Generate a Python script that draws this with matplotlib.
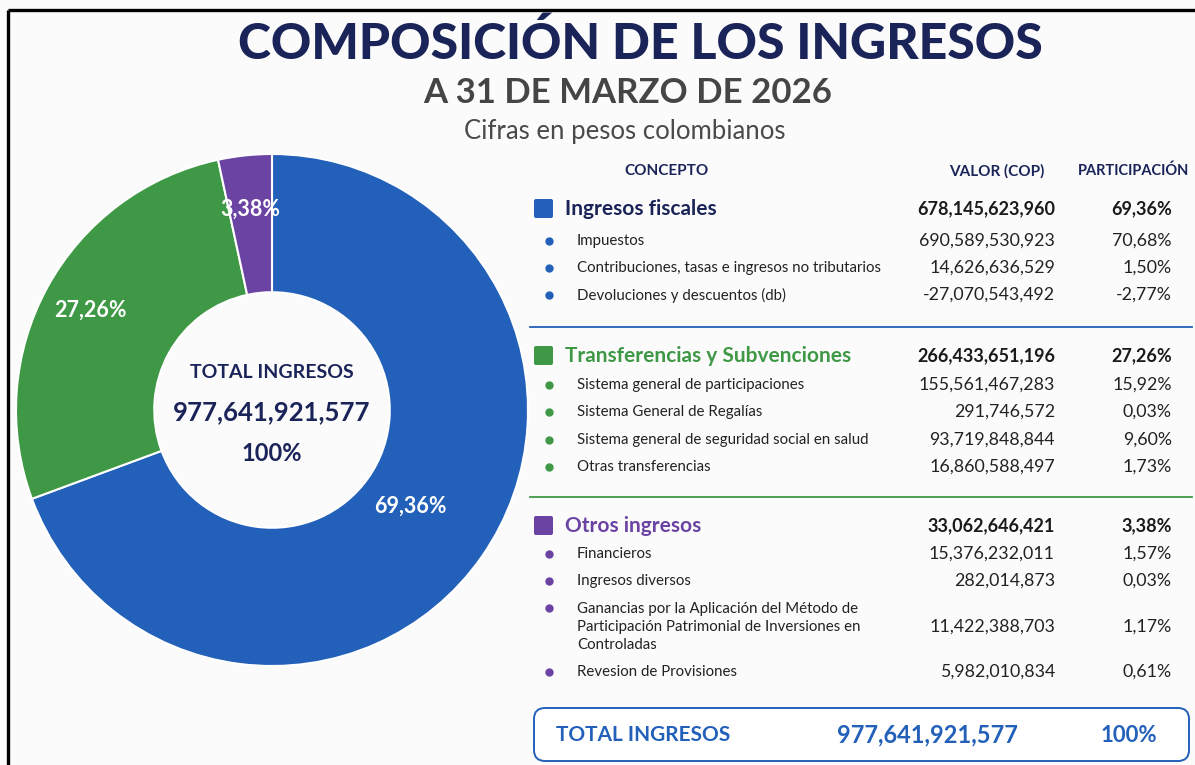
import matplotlib.pyplot as plt
from matplotlib.patches import FancyBboxPatch
import numpy as np

plt.rcParams['font.family'] = ['Lato', 'DejaVu Sans']

# donut data
slice_labels = ['Ingresos fiscales', 'Transferencias y Subvenciones', 'Otros ingresos']
slice_pct = [69.36, 27.26, 3.38]
slice_txt = ['69,36%', '27,26%', '3,38%']

total_valor = '977,641,921,577'

# table data
cat_names = ['Ingresos fiscales', 'Transferencias y Subvenciones', 'Otros ingresos']
cat_valor = ['678,145,623,960', '266,433,651,196', '33,062,646,421']
cat_pct = ['69,36%', '27,26%', '3,38%']

sub_names = [
    ['Impuestos', 'Contribuciones, tasas e ingresos no tributarios', 'Devoluciones y descuentos (db)'],
    ['Sistema general de participaciones', 'Sistema General de Regalías',
     'Sistema general de seguridad social en salud', 'Otras transferencias'],
    ['Financieros', 'Ingresos diversos',
     'Ganancias por la Aplicación del Método de\nParticipación Patrimonial de Inversiones en\nControladas',
     'Revesion de Provisiones'],
]
sub_valor = [
    ['690,589,530,923', '14,626,636,529', '-27,070,543,492'],
    ['155,561,467,283', '291,746,572', '93,719,848,844', '16,860,588,497'],
    ['15,376,232,011', '282,014,873', '11,422,388,703', '5,982,010,834'],
]
sub_pct = [
    ['70,68%', '1,50%', '-2,77%'],
    ['15,92%', '0,03%', '9,60%', '1,73%'],
    ['1,57%', '0,03%', '1,17%', '0,61%'],
]

navy = '#1b2459'
colors = ['#2260b9', '#3f9846', '#6b43a3']
bg = '#fbfbfb'

W, H = 1195, 765
fig = plt.figure(figsize=(W / 100, H / 100), dpi=100, facecolor=bg)

ax = fig.add_axes([0, 0, 1, 1])
ax.set_xlim(0, W)
ax.set_ylim(H, 0)
ax.axis('off')

# frame on top and left
ax.plot([8, W], [10, 10], color='black', lw=2.4, solid_capstyle='butt')
ax.plot([8, 8], [10, H], color='black', lw=2.4, solid_capstyle='butt')

# titles
ax.text(640, 44, 'COMPOSICIÓN DE LOS INGRESOS', ha='center', va='center',
        fontsize=36, fontweight='black', color=navy)
ax.text(628, 93, 'A 31 DE MARZO DE 2026', ha='center', va='center',
        fontsize=25, fontweight='bold', color='#454545')
ax.text(625, 131, 'Cifras en pesos colombianos', ha='center', va='center',
        fontsize=18.5, color='#4a4a4a')

# donut
cx, cy, r = 272, 410, 256
axp = fig.add_axes([(cx - r) / W, (H - cy - r) / H, 2 * r / W, 2 * r / H])
wedges, _ = axp.pie(slice_pct, colors=colors, startangle=90, counterclock=False,
                    radius=1, wedgeprops=dict(width=0.54, edgecolor='white', linewidth=1.5))
axp.set_xlim(-1, 1)
axp.set_ylim(-1, 1)
axp.set_aspect('equal')
axp.axis('off')

label_r = [0.66, 0.81, 0.79]
for w, t, lr in zip(wedges, slice_txt, label_r):
    ang = np.deg2rad((w.theta1 + w.theta2) / 2)
    axp.text(lr * np.cos(ang), lr * np.sin(ang), t, ha='center', va='center',
             fontsize=15.5, fontweight='bold', color='white')

axp.text(0, 0.145, 'TOTAL INGRESOS', ha='center', va='center', fontsize=14,
         fontweight='bold', color=navy)
axp.text(0, -0.01, total_valor, ha='center', va='center', fontsize=18.5,
         fontweight='bold', color=navy)
axp.text(0, -0.17, '100%', ha='center', va='center', fontsize=17,
         fontweight='bold', color=navy)

# table header
ax.text(667, 171, 'CONCEPTO', ha='center', va='center', fontsize=11, fontweight='bold', color=navy)
ax.text(997, 171, 'VALOR (COP)', ha='center', va='center', fontsize=11, fontweight='bold', color=navy)
ax.text(1134, 171, 'PARTICIPACIÓN', ha='center', va='center', fontsize=10.5, fontweight='bold', color=navy)

x_val, x_pct = 1055, 1172
cat_y = [209, 356, 526]
sub_y = [[241, 268, 295], [385, 412, 440, 467], [554, 581, 627, 672]]
sep_y = [327, 497]
line_h = 19.5

for i in range(3):
    col = colors[i]
    y = cat_y[i]
    sq = FancyBboxPatch((534, y - 10), 19, 19, boxstyle='round,pad=0,rounding_size=2',
                        facecolor=col, edgecolor='none')
    ax.add_patch(sq)
    ax.text(565, y, cat_names[i], ha='left', va='center', fontsize=15,
            fontweight='bold', color=navy if i == 0 else col)
    ax.text(x_val, y, cat_valor[i], ha='right', va='center', fontsize=13,
            fontweight='bold', color='#1a1a1a')
    ax.text(x_pct, y, cat_pct[i], ha='right', va='center', fontsize=13,
            fontweight='bold', color='#1a1a1a')
    for name, val, pct, sy in zip(sub_names[i], sub_valor[i], sub_pct[i], sub_y[i]):
        nl = name.count('\n')
        ax.plot(549, sy - nl * line_h / 2, 'o', color=col, ms=5)
        ax.text(577, sy, name, ha='left', va='center', fontsize=10.8,
                color='#222222', linespacing=1.32)
        ax.text(x_val, sy, val, ha='right', va='center', fontsize=12.8, color='#222222')
        ax.text(x_pct, sy, pct, ha='right', va='center', fontsize=12.8, color='#222222')
    if i < 2:
        ax.plot([530, 1192], [sep_y[i], sep_y[i]], color=col, lw=1.3)

# total box
box = FancyBboxPatch((534, 708), 655, 53, boxstyle='round,pad=0,rounding_size=11',
                     facecolor='white', edgecolor=colors[0], lw=1.4)
ax.add_patch(box)
ax.text(556, 735, 'TOTAL INGRESOS', ha='left', va='center', fontsize=15,
        fontweight='bold', color=colors[0])
ax.text(927, 735, total_valor, ha='center', va='center', fontsize=17,
        fontweight='bold', color=colors[0])
ax.text(1157, 735, '100%', ha='right', va='center', fontsize=16,
        fontweight='bold', color=colors[0])

fig.savefig('out.png', dpi=100, facecolor=bg)
